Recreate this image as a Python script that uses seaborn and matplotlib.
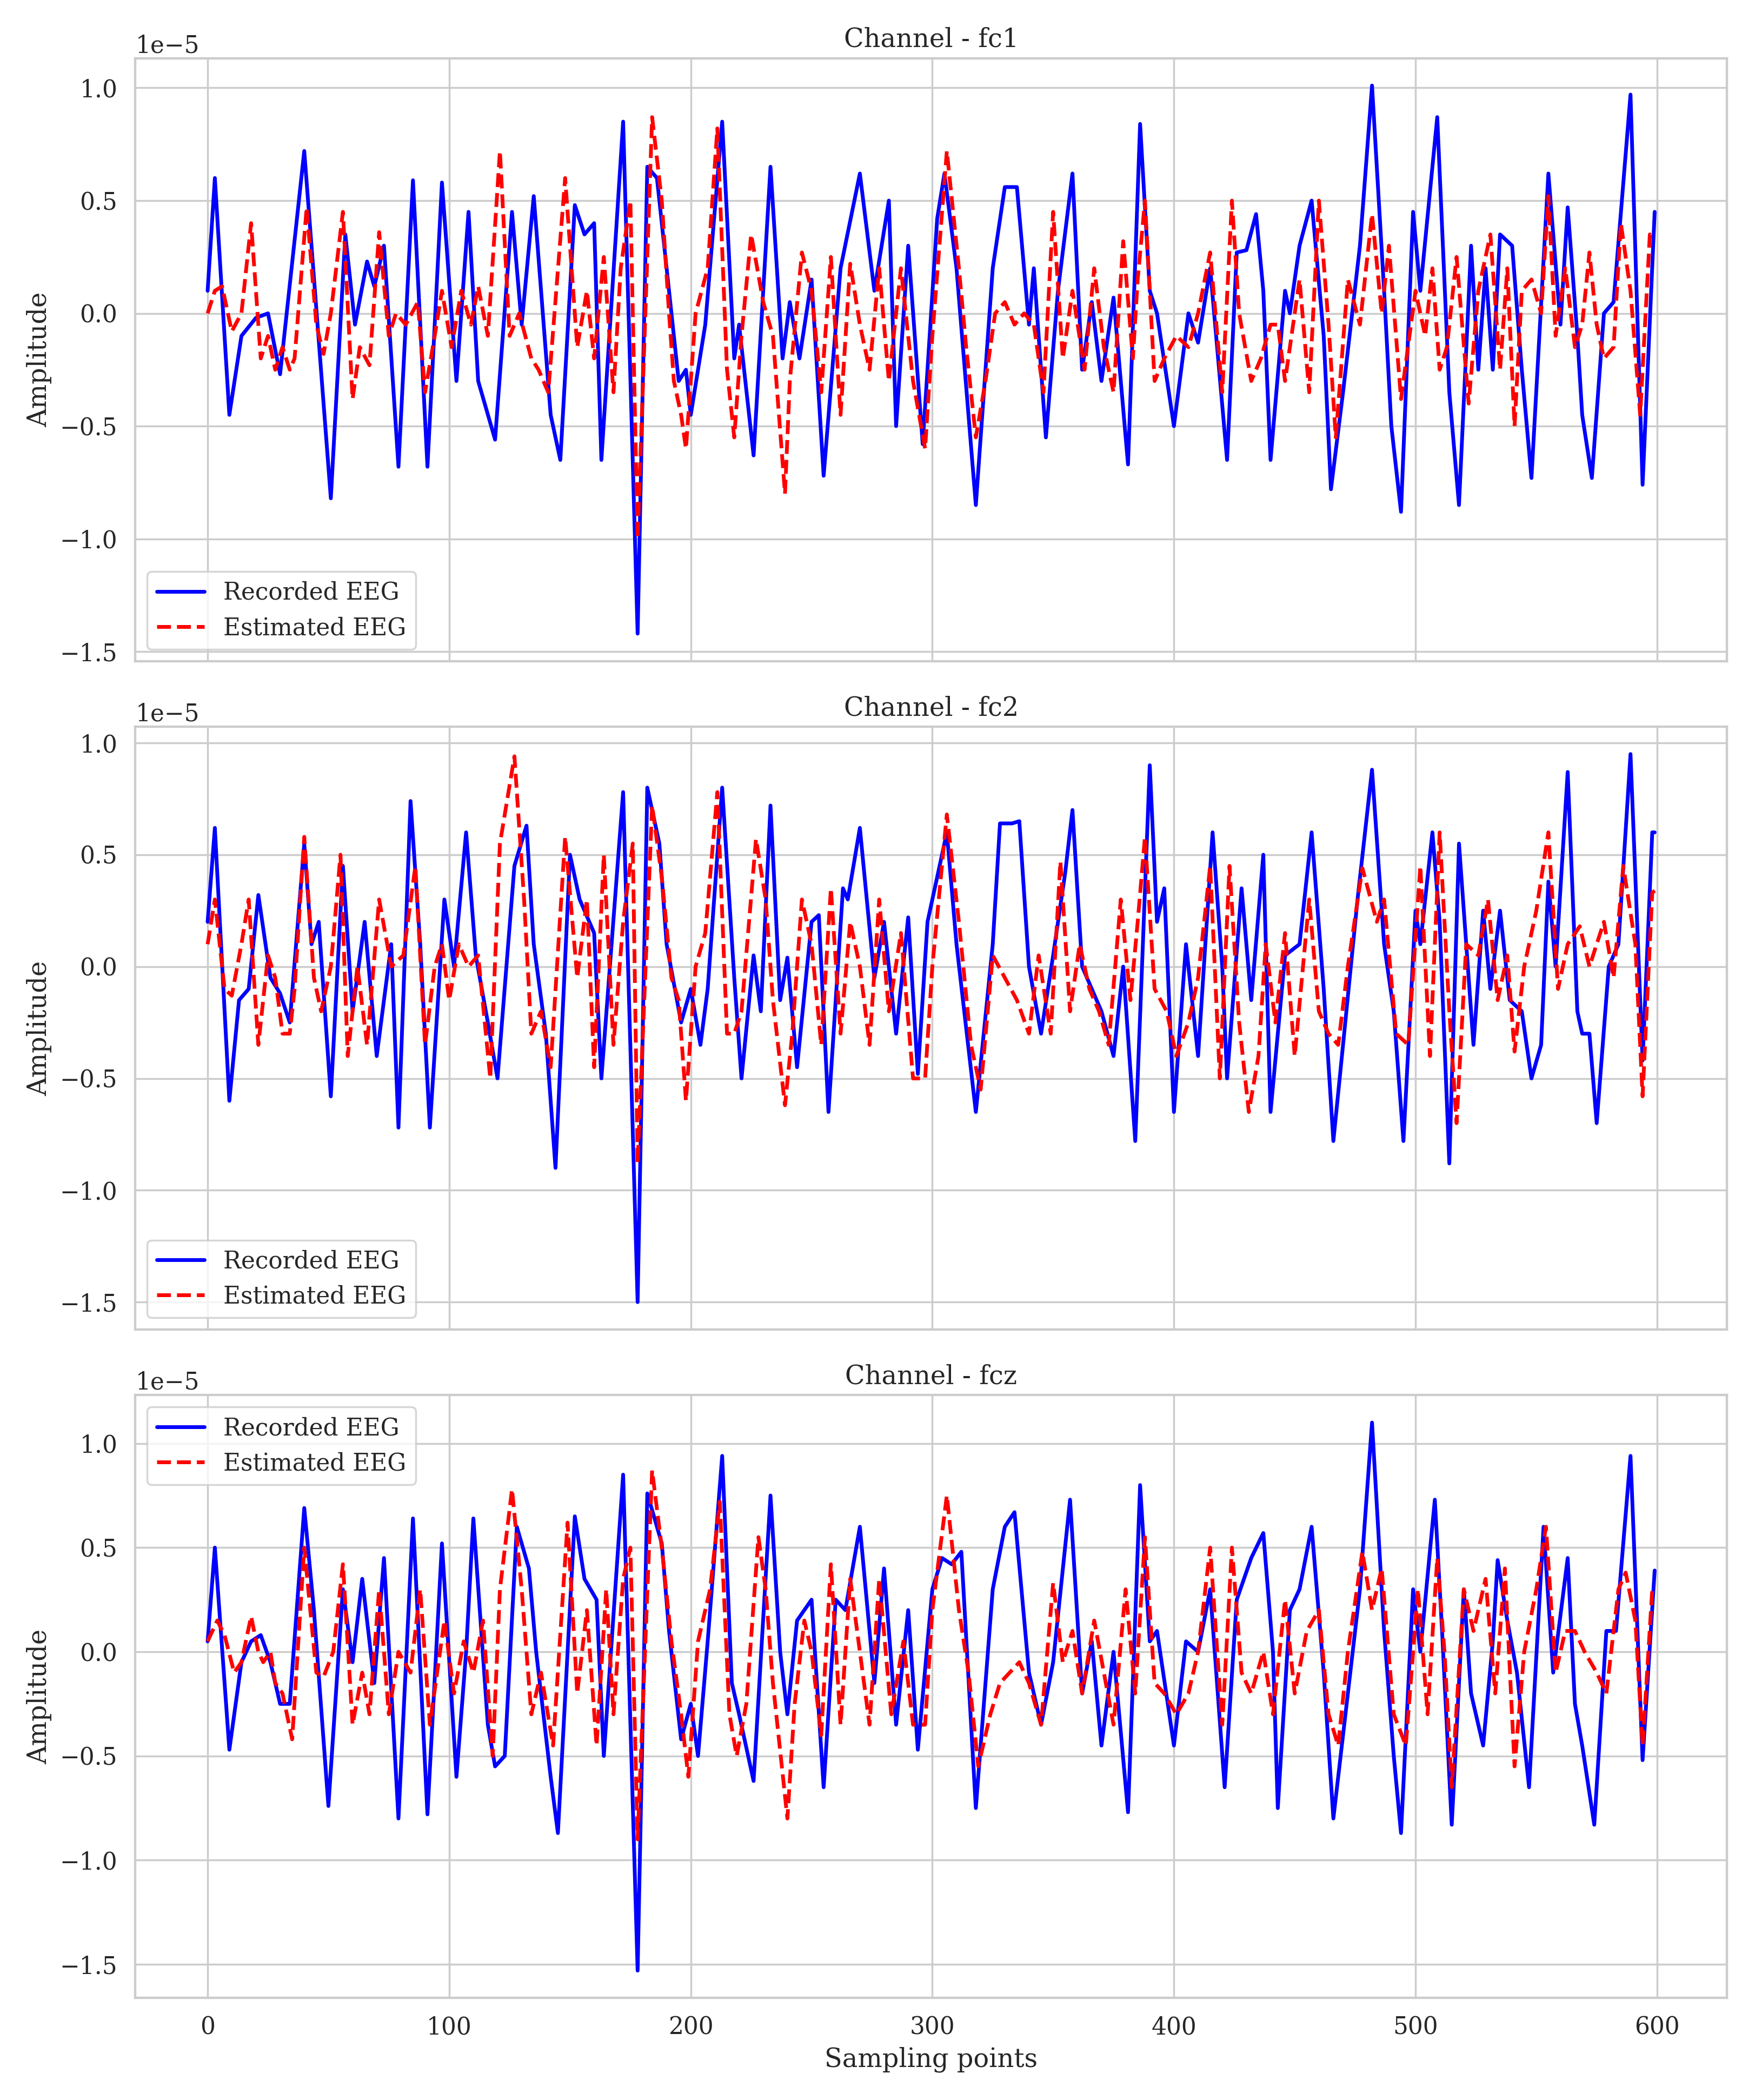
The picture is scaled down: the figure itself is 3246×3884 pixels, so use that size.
import numpy as np
import pandas as pd
import matplotlib
matplotlib.use("Agg")
import matplotlib.pyplot as plt
import seaborn as sns

# turning points (sample index, amplitude in 1e-5 units)
fc1_recorded = [(0,0.1),(3,0.6),(9,-0.45),(14,-0.1),(20,-0.02),(25,0),(30,-0.27),(40,0.72),(51,-0.82),(57,0.35),(61,-0.05),(66,0.23),(69,0.12),(73,0.3),(79,-0.68),(85,0.59),(91,-0.68),(97,0.58),(103,-0.3),(108,0.45),(112,-0.3),(119,-0.56),(126,0.45),(130,-0.05),(135,0.52),(142,-0.45),(146,-0.65),(152,0.48),(156,0.35),(160,0.4),(163,-0.65),(172,0.85),(178,-1.42),(182,0.65),(186,0.6),(195,-0.3),(198,-0.25),(200,-0.45),(206,-0.05),(213,0.85),(218,-0.2),(220,-0.05),(226,-0.63),(233,0.65),(238,-0.2),(241,0.05),(245,-0.2),(250,0.15),(255,-0.72),(262,0.2),(270,0.62),(276,0.1),(282,0.5),(285,-0.5),(290,0.3),(296,-0.58),(302,0.42),(305,0.62),(310,0.2),(318,-0.85),(325,0.2),(330,0.56),(335,0.56),(340,-0.05),(342,0.2),(347,-0.55),(352,0.1),(358,0.62),(362,-0.25),(366,0.05),(370,-0.3),(375,0.07),(381,-0.67),(386,0.84),(390,0.1),(393,0.0),(400,-0.5),(406,0.0),(410,-0.13),(415,0.2),(422,-0.65),(426,0.27),(430,0.28),(434,0.44),(437,0.1),(440,-0.65),(446,0.1),(448,0.0),(452,0.3),(457,0.5),(462,-0.1),(465,-0.78),(470,-0.35),(477,0.3),(482,1.01),(487,0.1),(490,-0.5),(494,-0.88),(499,0.45),(502,0.1),(509,0.87),(514,-0.35),(518,-0.85),(523,0.3),(526,-0.25),(529,0.2),(532,-0.25),(535,0.35),(540,0.3),(544,-0.25),(548,-0.73),(555,0.62),(560,-0.05),(563,0.47),(567,-0.1),(569,-0.45),(573,-0.73),(578,0.0),(582,0.05),(589,0.97),(594,-0.76),(599,0.45)]
fc1_estimated = [(0,0),(3,0.1),(6,0.12),(10,-0.08),(14,0),(18,0.4),(22,-0.2),(25,-0.1),(28,-0.25),(31,-0.15),(34,-0.25),(36,-0.2),(41,0.47),(45,-0.05),(48,-0.18),(51,0),(56,0.45),(60,-0.38),(63,-0.15),(67,-0.23),(71,0.36),(75,-0.1),(78,0),(82,-0.05),(87,0.05),(90,-0.35),(94,-0.1),(97,0.1),(101,-0.15),(105,0.1),(109,-0.05),(112,0.12),(116,-0.1),(121,0.72),(125,-0.1),(129,0.0),(134,-0.2),(137,-0.25),(141,-0.35),(148,0.6),(153,-0.15),(157,0.1),(160,-0.2),(164,0.25),(168,-0.35),(171,0.2),(175,0.5),(178,-1.0),(184,0.87),(188,0.5),(191,0.0),(193,-0.3),(196,-0.45),(198,-0.6),(202,0.0),(207,0.2),(211,0.82),(215,-0.25),(218,-0.55),(221,-0.1),(225,0.35),(230,0.05),(234,-0.1),(239,-0.8),(241,-0.3),(246,0.27),(250,0.1),(254,-0.35),(258,0.25),(262,-0.45),(266,0.22),(270,-0.05),(274,-0.25),(278,0.2),(282,-0.3),(287,0.2),(292,-0.3),(297,-0.6),(300,-0.1),(306,0.72),(311,0.2),(314,-0.15),(318,-0.55),(322,-0.3),(326,0.0),(330,0.05),(334,-0.05),(338,0.0),(342,-0.05),(346,-0.35),(350,0.45),(354,-0.2),(358,0.1),(363,-0.25),(367,0.2),(371,-0.15),(375,-0.35),(379,0.32),(383,-0.2),(385,0.15),(388,0.5),(392,-0.3),(396,-0.2),(401,-0.1),(406,-0.15),(410,0.0),(415,0.27),(420,-0.35),(424,0.5),(427,0.0),(432,-0.3),(436,-0.2),(440,-0.05),(443,-0.05),(446,-0.3),(452,0.15),(456,-0.35),(460,0.5),(464,-0.05),(467,-0.55),(472,0.15),(477,-0.05),(482,0.44),(486,0.0),(489,0.3),(494,-0.38),(500,0.1),(504,-0.1),(507,0.2),(510,-0.25),(513,-0.15),(517,0.25),(522,-0.4),(526,0.1),(531,0.35),(535,-0.25),(538,0.2),(541,-0.5),(544,0.1),(548,0.15),(552,0.0),(555,0.52),(558,-0.1),(562,0.2),(566,-0.15),(569,-0.05),(572,0.27),(575,-0.05),(578,-0.2),(582,-0.15),(585,0.4),(589,0.1),(593,-0.45),(597,0.35),(599,0.33)]
fc2_recorded = [(0,0.2),(3,0.62),(9,-0.6),(13,-0.15),(17,-0.1),(21,0.32),(26,-0.05),(30,-0.12),(34,-0.25),(40,0.55),(43,0.1),(46,0.2),(51,-0.58),(56,0.45),(60,-0.2),(65,0.2),(70,-0.4),(76,0.1),(79,-0.72),(84,0.74),(88,0.1),(92,-0.72),(98,0.3),(102,0.0),(107,0.6),(111,0.05),(116,-0.25),(120,-0.5),(127,0.45),(132,0.63),(135,0.1),(140,-0.3),(144,-0.9),(150,0.5),(154,0.3),(160,0.15),(163,-0.5),(172,0.78),(178,-1.5),(182,0.8),(187,0.55),(190,0.1),(196,-0.25),(200,-0.1),(204,-0.35),(207,-0.1),(213,0.8),(218,-0.05),(221,-0.5),(226,0.05),(229,-0.2),(233,0.72),(237,-0.15),(240,0.04),(244,-0.45),(250,0.2),(253,0.23),(257,-0.65),(263,0.35),(265,0.3),(270,0.62),(276,-0.05),(280,0.2),(285,-0.3),(290,0.22),(294,-0.48),(298,0.2),(302,0.4),(306,0.6),(310,0.1),(318,-0.65),(325,0.1),(328,0.64),(333,0.64),(336,0.65),(340,0.0),(345,-0.3),(350,0.05),(355,0.42),(358,0.7),(362,0.0),(366,-0.1),(370,-0.2),(375,-0.4),(379,0.0),(384,-0.78),(390,0.9),(393,0.2),(396,0.35),(400,-0.65),(405,0.1),(410,-0.4),(416,0.6),(420,0.0),(422,-0.5),(428,0.35),(432,-0.15),(437,0.5),(440,-0.65),(446,0.05),(452,0.1),(457,0.6),(462,-0.1),(466,-0.78),(470,-0.35),(476,0.3),(482,0.88),(487,0.1),(491,-0.2),(495,-0.78),(500,0.25),(502,0.1),(507,0.6),(510,0.2),(514,-0.88),(518,0.55),(521,0.1),(524,-0.35),(528,0.25),(531,-0.1),(535,0.25),(539,-0.15),(544,-0.2),(548,-0.5),(552,-0.35),(555,0.38),(558,0.0),(563,0.87),(567,-0.2),(569,-0.3),(572,-0.3),(575,-0.7),(580,0.0),(584,0.1),(589,0.95),(594,-0.42),(598,0.6),(599,0.6)]
fc2_estimated = [(0,0.1),(3,0.3),(7,-0.1),(10,-0.13),(14,0.1),(17,0.3),(21,-0.35),(25,0.05),(28,-0.05),(31,-0.3),(34,-0.3),(36,-0.1),(40,0.58),(44,-0.05),(47,-0.2),(51,0.0),(55,0.5),(58,-0.4),(62,0.0),(66,-0.35),(71,0.3),(76,0.0),(81,0.05),(86,0.45),(90,-0.35),(94,0.0),(97,0.1),(100,-0.15),(104,0.1),(108,0.0),(112,0.05),(117,-0.5),(121,0.55),(127,0.94),(131,0.3),(134,-0.3),(138,-0.2),(142,-0.45),(148,0.58),(153,-0.05),(157,0.3),(160,-0.45),(164,0.5),(168,-0.35),(172,0.2),(176,0.55),(178,-0.88),(184,0.72),(188,0.4),(192,-0.05),(195,-0.15),(198,-0.6),(202,0.0),(206,0.15),(211,0.78),(215,-0.3),(218,-0.3),(221,-0.2),(227,0.57),(231,0.3),(234,-0.15),(239,-0.62),(242,-0.3),(246,0.3),(250,0.1),(254,-0.35),(258,0.35),(262,-0.3),(266,0.2),(270,0.0),(274,-0.35),(278,0.3),(282,-0.2),(287,0.15),(292,-0.5),(297,-0.5),(300,0.0),(306,0.68),(311,0.2),(316,-0.35),(320,-0.55),(325,0.05),(330,-0.05),(335,-0.15),(340,-0.3),(344,0.05),(349,-0.3),(353,0.47),(357,-0.2),(361,0.1),(365,-0.1),(369,-0.2),(373,-0.35),(378,0.3),(382,-0.15),(385,0.2),(388,0.58),(392,-0.1),(397,-0.2),(401,-0.4),(406,-0.25),(410,-0.05),(415,0.45),(419,-0.5),(423,0.45),(427,-0.25),(431,-0.65),(435,-0.4),(438,0.1),(442,-0.25),(446,0.15),(450,-0.4),(456,0.3),(460,-0.2),(464,-0.3),(468,-0.35),(472,0.0),(478,0.44),(484,0.2),(487,0.3),(492,-0.3),(497,-0.35),(502,0.45),(506,-0.4),(510,0.6),(514,-0.2),(517,-0.7),(521,0.1),(526,0.05),(530,0.3),(534,-0.15),(538,0.05),(541,-0.38),(545,0.0),(550,0.25),(555,0.6),(559,-0.1),(563,0.1),(568,0.18),(572,0.0),(578,0.2),(582,-0.05),(586,0.45),(591,0.1),(594,-0.58),(598,0.33),(599,0.34)]
fcz_recorded = [(0,0.05),(3,0.5),(9,-0.47),(14,-0.05),(18,0.05),(22,0.08),(26,-0.05),(30,-0.25),(34,-0.25),(40,0.69),(44,0.2),(50,-0.74),(56,0.3),(60,-0.05),(64,0.35),(69,-0.15),(73,0.45),(79,-0.8),(85,0.64),(91,-0.78),(97,0.52),(103,-0.6),(107,0.0),(110,0.64),(116,-0.35),(119,-0.55),(123,-0.5),(128,0.6),(133,0.4),(136,0.0),(142,-0.6),(145,-0.87),(152,0.65),(156,0.35),(161,0.25),(164,-0.5),(172,0.85),(178,-1.53),(182,0.76),(188,0.52),(191,0.1),(196,-0.42),(200,-0.25),(203,-0.5),(207,0.05),(213,0.94),(217,-0.15),(220,-0.3),(226,-0.62),(233,0.75),(237,0.0),(240,-0.3),(244,0.15),(250,0.25),(255,-0.65),(260,0.25),(264,0.2),(270,0.6),(276,-0.15),(280,0.4),(285,-0.35),(290,0.2),(294,-0.47),(300,0.3),(304,0.45),(308,0.42),(312,0.48),(318,-0.75),(325,0.3),(330,0.6),(334,0.67),(340,-0.1),(345,-0.35),(350,-0.05),(357,0.73),(362,-0.2),(366,0.05),(370,-0.45),(375,0.0),(381,-0.77),(386,0.8),(390,0.05),(393,0.1),(400,-0.45),(405,0.05),(410,0.0),(415,0.3),(421,-0.65),(426,0.25),(432,0.45),(437,0.57),(441,0.0),(443,-0.75),(448,0.2),(452,0.3),(457,0.6),(462,-0.1),(466,-0.8),(471,-0.3),(477,0.3),(482,1.1),(487,0.1),(491,-0.5),(494,-0.87),(499,0.3),(502,0.0),(508,0.73),(511,0.1),(515,-0.83),(520,0.3),(523,-0.2),(528,-0.45),(532,0.05),(534,0.44),(538,0.15),(542,-0.1),(547,-0.65),(553,0.6),(557,-0.1),(563,0.45),(566,-0.25),(569,-0.45),(574,-0.83),(579,0.1),(583,0.1),(589,0.94),(594,-0.52),(599,0.39)]
fcz_estimated = [(0,0.05),(4,0.15),(7,0.08),(11,-0.1),(14,-0.05),(18,0.17),(21,0.0),(23,-0.05),(26,0.0),(28,-0.15),(31,-0.2),(35,-0.42),(40,0.5),(45,-0.1),(48,-0.12),(52,0.0),(56,0.42),(60,-0.35),(64,-0.1),(67,-0.3),(71,0.3),(75,-0.3),(79,0.0),(84,-0.1),(88,0.3),(92,-0.35),(95,-0.1),(98,0.15),(102,-0.2),(106,0.05),(110,-0.1),(114,0.15),(118,-0.5),(121,0.3),(126,0.78),(130,0.3),(134,-0.3),(138,-0.1),(143,-0.45),(149,0.62),(153,-0.2),(157,0.2),(161,-0.45),(165,0.3),(168,-0.3),(172,0.35),(175,0.5),(178,-0.9),(184,0.87),(188,0.5),(192,0.05),(196,-0.3),(199,-0.6),(203,0.05),(208,0.3),(212,0.72),(216,-0.3),(219,-0.5),(223,-0.25),(228,0.55),(231,0.3),(234,-0.15),(240,-0.8),(243,-0.25),(247,0.15),(250,0.0),(254,-0.4),(258,0.42),(262,-0.35),(266,0.35),(270,0.0),(274,-0.35),(278,0.35),(283,-0.3),(288,0.05),(292,-0.35),(297,-0.35),(300,0.2),(306,0.75),(311,0.2),(315,-0.1),(319,-0.55),(324,-0.3),(328,-0.15),(332,-0.1),(336,-0.05),(340,-0.15),(345,-0.35),(350,0.33),(354,-0.05),(358,0.1),(362,-0.2),(367,0.15),(371,-0.1),(375,-0.35),(380,0.3),(384,-0.2),(388,0.55),(392,-0.15),(396,-0.2),(401,-0.3),(406,-0.2),(410,0.0),(415,0.5),(420,-0.35),(424,0.5),(428,-0.1),(432,-0.2),(437,0.0),(441,-0.3),(446,0.25),(450,-0.2),(455,0.1),(460,0.2),(464,-0.3),(468,-0.45),(472,0.0),(478,0.48),(482,0.2),(486,0.4),(491,-0.3),(496,-0.45),(501,0.3),(505,-0.3),(509,0.45),(512,0.0),(515,-0.65),(520,0.3),(524,0.1),(529,0.35),(533,-0.2),(537,0.4),(541,-0.55),(545,0.0),(550,0.3),(554,0.6),(558,-0.1),(562,0.1),(566,0.1),(570,0.0),(575,-0.1),(579,-0.2),(584,0.3),(587,0.38),(591,0.15),(594,-0.45),(598,0.3),(599,0.3)]

channels = ["fc1", "fc2", "fcz"]
recorded = [fc1_recorded, fc2_recorded, fcz_recorded]
estimated = [fc1_estimated, fc2_estimated, fcz_estimated]
legend_loc = ["lower left", "lower left", "upper left"]

sns.set_theme(style="whitegrid", font="DejaVu Serif", font_scale=1.15)
plt.rcParams["axes.edgecolor"] = "#cccccc"

fig, axes = plt.subplots(3, 1, figsize=(12.984, 15.536), sharex=True)

for ax, ch, rec, est, loc in zip(axes, channels, recorded, estimated, legend_loc):
    df_rec = pd.DataFrame(rec, columns=["x", "y"])
    df_est = pd.DataFrame(est, columns=["x", "y"])
    df_rec["y"] *= 1e-5
    df_est["y"] *= 1e-5
    sns.lineplot(data=df_rec, x="x", y="y", ax=ax, color="blue", linewidth=2, label="Recorded EEG")
    sns.lineplot(data=df_est, x="x", y="y", ax=ax, color="red", linewidth=2, linestyle="--", label="Estimated EEG")
    ax.set_title(f"Channel - {ch}")
    ax.set_ylabel("Amplitude")
    ax.set_xlabel("")
    ax.legend(loc=loc)

axes[-1].set_xlabel("Sampling points")
plt.tight_layout()
plt.savefig("out.png", dpi=250)
